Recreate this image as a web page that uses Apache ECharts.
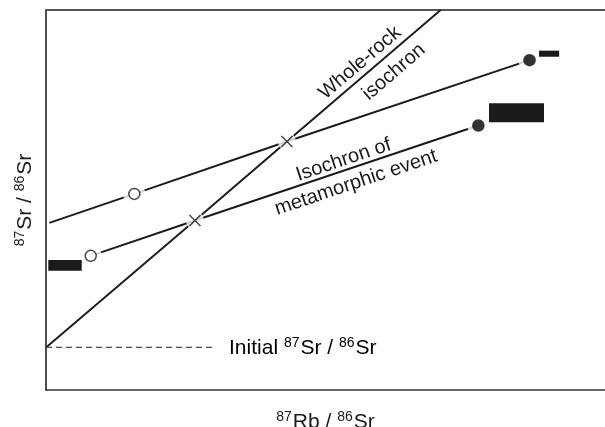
<!DOCTYPE html>
<html>
<head>
<meta charset="utf-8">
<script src="https://cdn.jsdelivr.net/npm/echarts@6/dist/echarts.min.js"></script>
<style>
html,body{margin:0;padding:0;background:#fff;}
#c{width:605px;height:427px;}
</style>
</head>
<body>
<div id="c"></div>
<script>
// ---- data (arbitrary isotope-ratio units) ----
const xRange = [0, 10];
const yRange = [0, 10];
const wholeRock = [[0, 1.12], [2.665, 4.46], [4.31, 6.54], [7.06, 10]];
const upperIsochron = [[0.06, 4.40], [1.58, 5.16], [4.31, 6.54], [8.65, 8.68]];
const metamorphicIsochron = [[0.80, 3.53], [2.665, 4.46], [7.734, 6.96]];
const initialRatio = [[0, 1.12], [2.97, 1.12]];
const openCircles = [[1.58, 5.16], [0.80, 3.53]];
const filledCircles = [[8.65, 8.68], [7.734, 6.96]];
const crosses = [[2.665, 4.46], [4.31, 6.54]];
// bars: [x0, x1, y0, y1]
const bars = [[0.041, 0.639, 3.14, 3.42], [8.82, 9.18, 8.77, 8.93], [7.925, 8.909, 7.045, 7.545]];
const annotTexts = ['Whole-rock', 'isochron', 'Isochron of', 'metamorphic event'];
const annotAnchors = [[5.617, 8.605], [6.225, 8.368], [5.324, 6.053], [5.546, 5.455]];
const initialAnchor = [3.274, 1.12];

const FONT = '"Liberation Sans", Arial, Helvetica, sans-serif';
const INK = '#1a1a1a';
const supRich = {
  n: { fontSize: 21, fontFamily: FONT, color: INK, lineHeight: 23, verticalAlign: 'bottom' },
  s: { fontSize: 14, fontFamily: FONT, color: INK, lineHeight: 23, verticalAlign: 'top', padding: [0, 1, 0, 0] }
};

const chart = echarts.init(document.getElementById('c'), null, { renderer: 'canvas' });

const lineStyle = { color: INK, width: 1.9 };
function lineSeries(data, extra) {
  return Object.assign({
    type: 'line', data: data, symbol: 'none', silent: true, z: 2,
    lineStyle: Object.assign({}, lineStyle), animation: false
  }, extra || {});
}

const option = {
  animation: false,
  backgroundColor: '#fff',
  grid: { left: 46, right: 0, top: 10, bottom: 37, outerBoundsMode: 'none', containLabel: false },
  xAxis: [{
    type: 'value', min: xRange[0], max: xRange[1], position: 'bottom',
    axisLine: { show: true, lineStyle: { color: '#333', width: 1.6 } },
    axisTick: { show: false }, axisLabel: { show: false }, splitLine: { show: false },
    name: '{s|87}{n|Rb / }{s|86}{n|Sr}', nameLocation: 'middle', nameGap: 20,
    nameTextStyle: { rich: supRich }
  }, {
    type: 'value', min: xRange[0], max: xRange[1], position: 'top',
    axisLine: { show: true, onZero: false, lineStyle: { color: '#555', width: 1.8 } },
    axisTick: { show: false }, axisLabel: { show: false }, splitLine: { show: false }
  }],
  yAxis: [{
    type: 'value', min: yRange[0], max: yRange[1],
    axisLine: { show: true, lineStyle: { color: '#222', width: 1.6 } },
    axisTick: { show: false }, axisLabel: { show: false }, splitLine: { show: false },
    name: '{s|87}{n|Sr / }{s|86}{n|Sr}', nameLocation: 'middle', nameGap: 10, nameRotate: 90,
    nameTextStyle: { rich: supRich }
  }],
  series: [
    lineSeries(wholeRock),
    lineSeries(upperIsochron),
    lineSeries(metamorphicIsochron),
    lineSeries(initialRatio, { lineStyle: { color: '#4a4a4a', width: 1.3, type: [6, 4] } }),
    // white halos that open gaps in the lines around the points
    { type: 'scatter', data: openCircles.concat(filledCircles), symbol: 'circle', symbolSize: 22,
      itemStyle: { color: '#fff' }, z: 3, silent: true },
    { type: 'scatter', data: crosses, symbol: 'circle', symbolSize: 18,
      itemStyle: { color: '#fff' }, z: 3, silent: true },
    // points
    { type: 'scatter', data: openCircles, symbol: 'circle', symbolSize: 11,
      itemStyle: { color: '#fff', borderColor: INK, borderWidth: 1.5 }, z: 5, silent: true },
    { type: 'scatter', data: filledCircles, symbol: 'circle', symbolSize: 12.5,
      itemStyle: { color: '#000' }, z: 5, silent: true },
    { type: 'scatter', data: crosses, symbol: 'path://M0,0L10,10M10,0L0,10', symbolSize: 11,
      itemStyle: { color: 'rgba(0,0,0,0)', borderColor: INK, borderWidth: 1.5 }, z: 5, silent: true },
    // black bars
    { type: 'custom', data: bars, z: 6, silent: true,
      renderItem: function (params, api) {
        const p0 = api.coord([api.value(0), api.value(3)]);
        const p1 = api.coord([api.value(1), api.value(2)]);
        return { type: 'rect', shape: { x: p0[0], y: p0[1], width: p1[0] - p0[0], height: p1[1] - p0[1] },
          style: { fill: INK } };
      } }
  ]
};
chart.setOption(option);

// annotations placed at data anchors, rotated along their isochron
function angleOf(line) {
  const a = chart.convertToPixel({ gridIndex: 0 }, line[0]);
  const b = chart.convertToPixel({ gridIndex: 0 }, line[line.length - 1]);
  return Math.atan2(-(b[1] - a[1]), b[0] - a[0]);
}
const wrAngle = angleOf(wholeRock);
const mAngle = angleOf(metamorphicIsochron);
const angles = [wrAngle, wrAngle, mAngle, mAngle];
const graphics = annotTexts.map(function (t, i) {
  const p = chart.convertToPixel({ gridIndex: 0 }, annotAnchors[i]);
  return { type: 'text', x: p[0], y: p[1], rotation: angles[i], z: 10,
    style: { text: t, font: '20px ' + FONT, fill: INK, align: 'center', verticalAlign: 'middle' } };
});
const ip = chart.convertToPixel({ gridIndex: 0 }, initialAnchor);
graphics.push({ type: 'text', x: ip[0], y: ip[1], z: 10,
  style: { text: '{n|Initial }{s|87}{n|Sr / }{s|86}{n|Sr}', rich: supRich, align: 'left', verticalAlign: 'middle' } });
chart.setOption({ graphic: graphics });
</script>
</body>
</html>
